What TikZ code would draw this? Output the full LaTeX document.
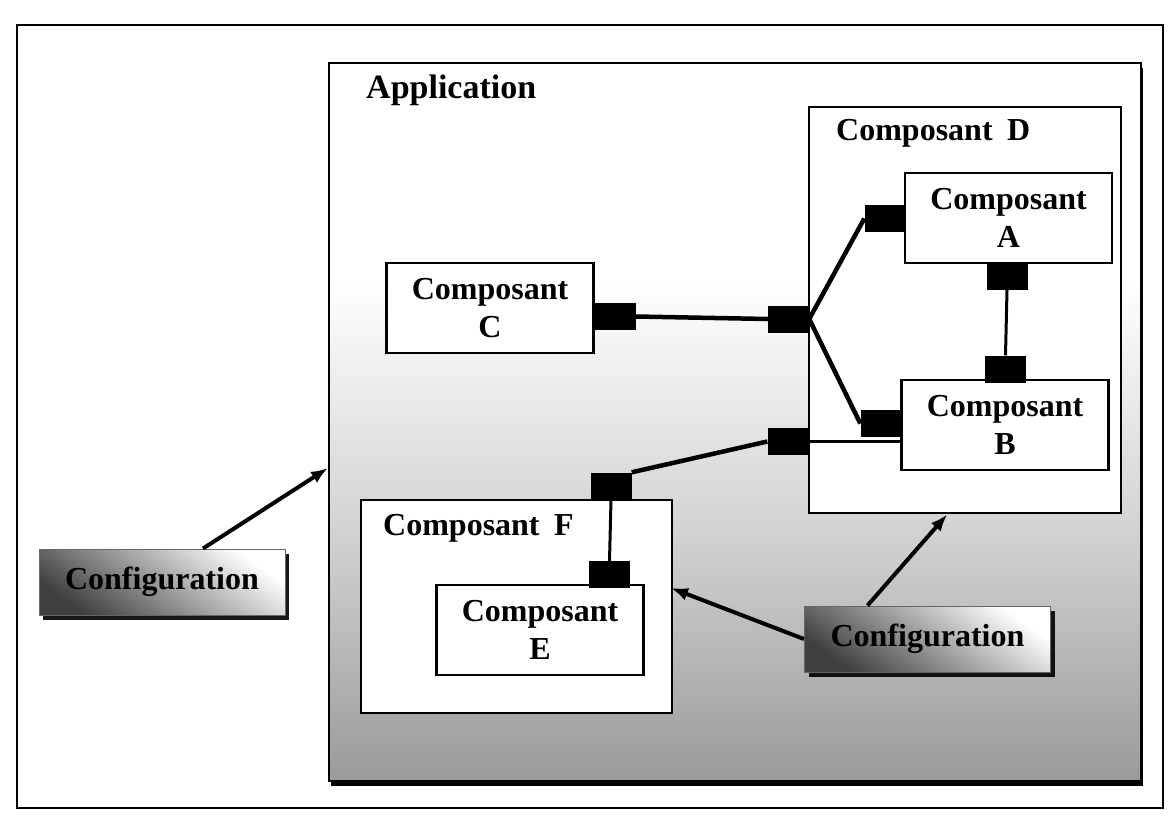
\documentclass[tikz,border=0pt]{standalone}
\usepackage{fontspec}
\setmainfont{Liberation Serif}
\usetikzlibrary{arrows.meta,shadows}

% grey fade used for the application area: white at the top, darker towards the bottom
\pgfdeclareverticalshading{appshade}{100bp}{%
  color(0bp)=(black!64); color(20bp)=(black!46); color(42bp)=(black!18);
  color(60bp)=(white); color(100bp)=(white)}

\newcommand\complbl{\fontsize{32}{38}\selectfont\bfseries}

\begin{document}
\begin{tikzpicture}[x=1pt,y=-1pt,
  box/.style={draw=black, line width=2.4pt, fill=white, inner sep=0pt},
  comp/.style={box, minimum width=207pt, minimum height=90pt, align=center, font=\complbl},
  port/.style={fill=black, draw=none, minimum width=41pt, minimum height=27pt, inner sep=0pt},
  thickwire/.style={line width=4.5pt},
  thinwire/.style={line width=3pt},
  arr/.style={line width=4pt, -{Latex[length=17pt,width=13pt]}},
  boxtitle/.style={font=\complbl, inner sep=0pt, anchor=base west},
  cfg/.style={draw=black!60, line width=1pt, minimum width=246pt, minimum height=66pt,
    inner sep=0pt, font=\complbl, top color=white, bottom color=black!75, shading angle=-35,
    drop shadow={shadow xshift=4pt, shadow yshift=-5pt, fill=black, opacity=0.9}},
]
\useasboundingbox (0,0) rectangle (1169,820);

% outer frame
\node[draw, line width=2pt, minimum width=1146pt, minimum height=783pt, anchor=north west, inner sep=0pt]
  (frame) at (16,24) {};

% application area
\node[draw, line width=2pt, shading=appshade, minimum width=812pt, minimum height=718pt,
  anchor=north west, inner sep=0pt,
  drop shadow={shadow xshift=2pt, shadow yshift=-5pt, fill=black, opacity=1}]
  (app) at (328,62) {};
\node[boxtitle, font=\fontsize{34}{40}\selectfont\bfseries] (apptitle) at (366,98) {Application};

% composite D
\node[box, minimum width=312pt, minimum height=406pt, anchor=north west] (D) at (808,106) {};
\node[boxtitle] (Dtitle) at (836,140) {Composant\hspace{0.45em}D};

% composite F
\node[box, minimum width=311pt, minimum height=213pt, anchor=north west] (F) at (360,499) {};
\node[boxtitle] (Ftitle) at (383,535) {Composant\hspace{0.45em}F};

% basic components
\node[comp] (A) at (1008.5,218) {Composant\\A};
\node[comp] (B) at (1005,425) {Composant\\B};
\node[comp] (C) at (490,308) {Composant\\C};
\node[comp] (E) at (540,630) {Composant\\E};

% port positions
\coordinate (pCc) at (615.5,316.5);
\coordinate (pD1c) at (788.5,319);
\coordinate (pA1c) at (885,218.5);
\coordinate (pA2c) at (1007,276.5);
\coordinate (pB1c) at (1005.5,369);
\coordinate (pB2c) at (881,423.5);
\coordinate (pD2c) at (788,441.5);
\coordinate (pFc) at (611,486);
\coordinate (pEc) at (609.5,574.5);

\node[port] (pC) at (pCc) {};
\node[port] (pD1) at (pD1c) {};
\node[port] (pA1) at (pA1c) {};
\node[port] (pA2) at (pA2c) {};
\node[port] (pB1) at (pB1c) {};
\node[port] (pB2) at (pB2c) {};
\node[port] (pD2) at (pD2c) {};
\node[port] (pF) at (pFc) {};
\node[port] (pE) at (pEc) {};

% bindings
\draw[thickwire] (pC.east) -- (pD1.west);
\draw[thickwire] (pD1.east) -- (pA1.west);
\draw[thickwire] (pD1.east) -- (pB2.west);
\draw[thinwire] (pA2.south) -- (pB1.north);
\draw[thinwire] (pD2.east) -- (B.west |- pD2.east);
\draw[thickwire] (pD2.west) -- (pF.north east);
\draw[thinwire] (pF.south) -- (pE.north);

% configurations
\node[cfg] (cfgL) at (162,582) {Configuration};
\node[cfg] (cfgR) at (927.5,639) {Configuration};

\coordinate (appL) at (328,468);
\coordinate (Fr) at (671,588);
\draw[arr] ([xshift=41pt]cfgL.north) -- (appL);
\draw[arr] (cfgR.west) -- (Fr);
\draw[arr] ([xshift=-60pt]cfgR.north) -- ([xshift=-18pt]D.south);
\end{tikzpicture}
\end{document}
